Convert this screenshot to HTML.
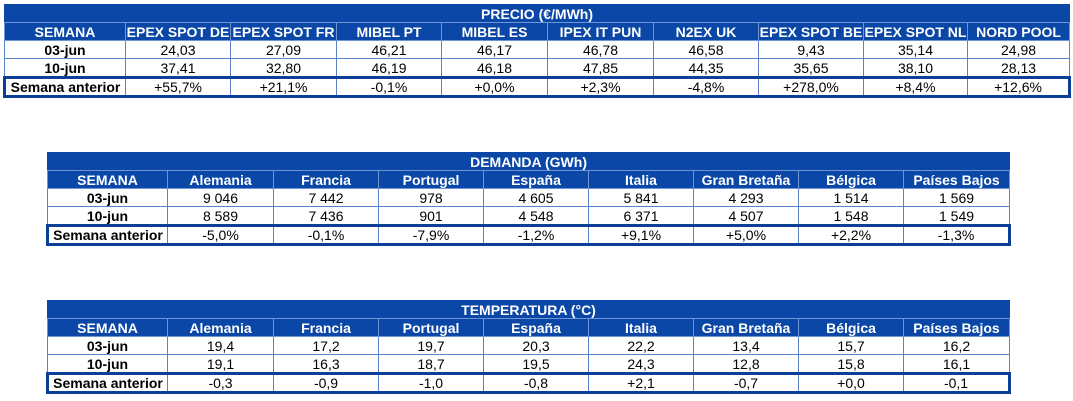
<!DOCTYPE html>
<html><head><meta charset="utf-8"><style>
body{margin:0;background:#fff;width:1073px;height:401px;position:relative;overflow:hidden;font-family:"Liberation Sans",Arial,sans-serif;}
table{position:absolute;border-collapse:collapse;table-layout:fixed;font-size:14px;}
td{border:1px solid #5a82c8;text-align:center;padding:0;height:17px;line-height:16px;white-space:nowrap;overflow:hidden;color:#000;}
tr.t td{background:#0b47a6;color:#fff;font-weight:bold;border:1px solid #0b47a6;border-bottom-color:#6f95d6;}
tr.h td{background:#0b47a6;color:#fff;font-weight:bold;border-color:#6f95d6;}
td.b{font-weight:bold;}
tr.l td{border-top:3px solid #0d3f96;border-bottom:3px solid #0d3f96;height:15px;}
tr.l td:first-child{border-left:3px solid #0d3f96;font-weight:bold;}
tr.l td:last-child{border-right:3px solid #0d3f96;}
</style></head><body>

<table style="left:3px;top:4px;width:1065px;">
<colgroup><col style="width:121px"><col style="width:105px"><col style="width:106px"><col style="width:105px"><col style="width:106px"><col style="width:106px"><col style="width:105px"><col style="width:105px"><col style="width:104px"><col style="width:102px"></colgroup>
<tr class="t"><td colspan="10">PRECIO (€/MWh)</td></tr>
<tr class="h"><td>SEMANA</td><td>EPEX SPOT DE</td><td>EPEX SPOT FR</td><td>MIBEL PT</td><td>MIBEL ES</td><td>IPEX IT PUN</td><td>N2EX UK</td><td>EPEX SPOT BE</td><td>EPEX SPOT NL</td><td>NORD POOL</td></tr>
<tr><td class="b">03-jun</td><td>24,03</td><td>27,09</td><td>46,21</td><td>46,17</td><td>46,78</td><td>46,58</td><td>9,43</td><td>35,14</td><td>24,98</td></tr>
<tr><td class="b">10-jun</td><td>37,41</td><td>32,80</td><td>46,19</td><td>46,18</td><td>47,85</td><td>44,35</td><td>35,65</td><td>38,10</td><td>28,13</td></tr>
<tr class="l"><td>Semana anterior</td><td>+55,7%</td><td>+21,1%</td><td>-0,1%</td><td>+0,0%</td><td>+2,3%</td><td>-4,8%</td><td>+278,0%</td><td>+8,4%</td><td>+12,6%</td></tr>
</table>

<table style="left:46px;top:152px;width:962px;">
<colgroup><col style="width:120px"><col style="width:106px"><col style="width:105px"><col style="width:105px"><col style="width:105px"><col style="width:105px"><col style="width:105px"><col style="width:105px"><col style="width:106px"></colgroup>
<tr class="t"><td colspan="9">DEMANDA (GWh)</td></tr>
<tr class="h"><td>SEMANA</td><td>Alemania</td><td>Francia</td><td>Portugal</td><td>España</td><td>Italia</td><td>Gran Bretaña</td><td>Bélgica</td><td>Países Bajos</td></tr>
<tr><td class="b">03-jun</td><td>9 046</td><td>7 442</td><td>978</td><td>4 605</td><td>5 841</td><td>4 293</td><td>1 514</td><td>1 569</td></tr>
<tr><td class="b">10-jun</td><td>8 589</td><td>7 436</td><td>901</td><td>4 548</td><td>6 371</td><td>4 507</td><td>1 548</td><td>1 549</td></tr>
<tr class="l"><td>Semana anterior</td><td>-5,0%</td><td>-0,1%</td><td>-7,9%</td><td>-1,2%</td><td>+9,1%</td><td>+5,0%</td><td>+2,2%</td><td>-1,3%</td></tr>
</table>

<table style="left:46px;top:300px;width:962px;">
<colgroup><col style="width:120px"><col style="width:106px"><col style="width:105px"><col style="width:105px"><col style="width:105px"><col style="width:105px"><col style="width:105px"><col style="width:105px"><col style="width:106px"></colgroup>
<tr class="t"><td colspan="9">TEMPERATURA (°C)</td></tr>
<tr class="h"><td>SEMANA</td><td>Alemania</td><td>Francia</td><td>Portugal</td><td>España</td><td>Italia</td><td>Gran Bretaña</td><td>Bélgica</td><td>Países Bajos</td></tr>
<tr><td class="b">03-jun</td><td>19,4</td><td>17,2</td><td>19,7</td><td>20,3</td><td>22,2</td><td>13,4</td><td>15,7</td><td>16,2</td></tr>
<tr><td class="b">10-jun</td><td>19,1</td><td>16,3</td><td>18,7</td><td>19,5</td><td>24,3</td><td>12,8</td><td>15,8</td><td>16,1</td></tr>
<tr class="l"><td>Semana anterior</td><td>-0,3</td><td>-0,9</td><td>-1,0</td><td>-0,8</td><td>+2,1</td><td>-0,7</td><td>+0,0</td><td>-0,1</td></tr>
</table>
</body></html>
